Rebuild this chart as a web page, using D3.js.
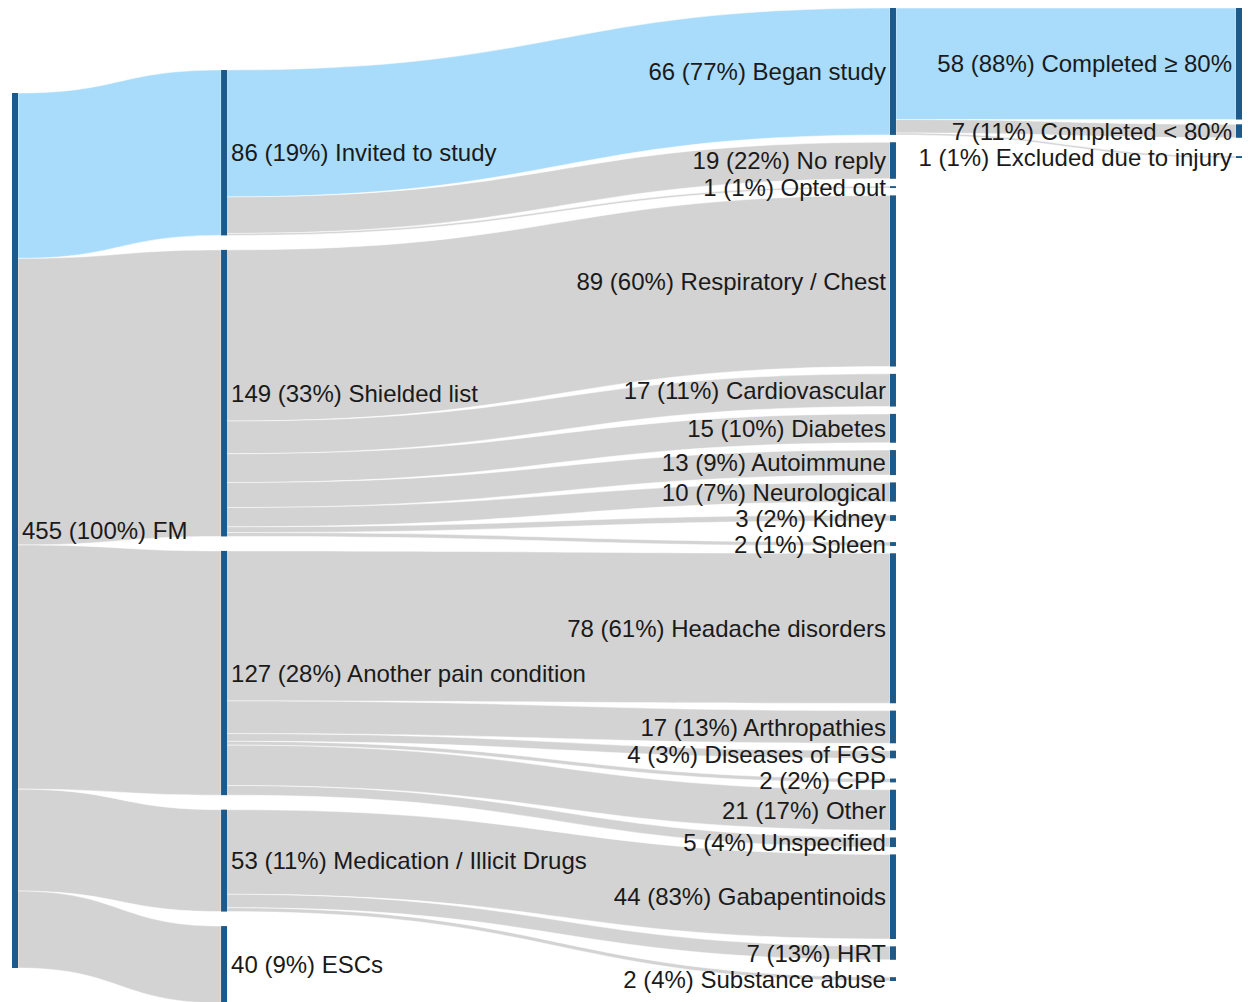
<!DOCTYPE html>
<html><head><meta charset="utf-8">
<script src="https://cdn.jsdelivr.net/npm/d3@7"></script>
<style>
html,body{margin:0;padding:0;background:#fff;}
svg{display:block;}
text{font-family:"Liberation Sans",Arial,sans-serif;fill:#1a1a1a;}
</style></head>
<body>
<svg id="chart" width="1248" height="1002"></svg>
<script>
// ---------------- DATA ----------------
const columns = [
  ["FM"],
  ["Invited to study", "Shielded list", "Another pain condition", "Medication / Illicit Drugs", "ESCs"],
  ["Began study", "No reply", "Opted out",
   "Respiratory / Chest", "Cardiovascular", "Diabetes", "Autoimmune", "Neurological", "Kidney", "Spleen",
   "Headache disorders", "Arthropathies", "Diseases of FGS", "CPP", "Other", "Unspecified",
   "Gabapentinoids", "HRT", "Substance abuse"],
  ["Completed ≥ 80%", "Completed < 80%", "Excluded due to injury"]
];
const linkSources = [
  "FM","FM","FM","FM","FM",
  "Invited to study","Invited to study","Invited to study",
  "Shielded list","Shielded list","Shielded list","Shielded list","Shielded list","Shielded list","Shielded list",
  "Another pain condition","Another pain condition","Another pain condition","Another pain condition","Another pain condition","Another pain condition",
  "Medication / Illicit Drugs","Medication / Illicit Drugs","Medication / Illicit Drugs",
  "Began study","Began study","Began study"
];
const linkTargets = [
  "Invited to study","Shielded list","Another pain condition","Medication / Illicit Drugs","ESCs",
  "Began study","No reply","Opted out",
  "Respiratory / Chest","Cardiovascular","Diabetes","Autoimmune","Neurological","Kidney","Spleen",
  "Headache disorders","Arthropathies","Diseases of FGS","CPP","Other","Unspecified",
  "Gabapentinoids","HRT","Substance abuse",
  "Completed ≥ 80%","Completed < 80%","Excluded due to injury"
];
const linkValues = [
  86,149,127,53,40,
  66,19,1,
  89,17,15,13,10,3,2,
  78,17,4,2,21,5,
  44,7,2,
  58,7,1
];
const nodePercents = {
  "FM":100,
  "Invited to study":19,"Shielded list":33,"Another pain condition":28,"Medication / Illicit Drugs":11,"ESCs":9,
  "Began study":77,"No reply":22,"Opted out":1,
  "Respiratory / Chest":60,"Cardiovascular":11,"Diabetes":10,"Autoimmune":9,"Neurological":7,"Kidney":2,"Spleen":1,
  "Headache disorders":61,"Arthropathies":13,"Diseases of FGS":3,"CPP":2,"Other":17,"Unspecified":4,
  "Gabapentinoids":83,"HRT":13,"Substance abuse":4,
  "Completed ≥ 80%":88,"Completed < 80%":11,"Excluded due to injury":1
};
const highlightPath = ["FM","Invited to study","Began study","Completed ≥ 80%"];

// ---------------- LAYOUT CONFIG ----------------
const W = 1248, H = 1002;
const nodeW = 6;
const FONT = 24;
const labelSpacing = 26;            // min distance between label centres in a column
const colX = d3.scaleLinear().domain([0, 1]).range([12, 1236]);
const columnPos = [0, 0.1708, 0.7173, 1.0];
const columnExtent = [null, [70, 1003], [8, 981], [8, 158]];
const ky = d3.scaleLinear().domain([0, 455]).range([0, 875]);
const COL_NODE = "#1c5a8b", COL_BLUE = "#a9dcfb", COL_GRAY = "#d3d3d3";

// build graph
const nodes = new Map();
columns.forEach((col, d) => col.forEach((name, i) => nodes.set(name, {name, depth: d, index: i, out: [], inc: [], value: 0})));
const links = linkSources.map((s, i) => ({source: nodes.get(linkSources[i]), target: nodes.get(linkTargets[i]), value: linkValues[i]}));
links.forEach(l => { l.source.out.push(l); l.target.inc.push(l); });
nodes.forEach(n => {
  n.value = Math.max(d3.sum(n.out, l => l.value), d3.sum(n.inc, l => l.value));
  n.h = ky(n.value);
  n.x0 = colX(columnPos[n.depth]); n.x1 = n.x0 + nodeW;
});
// stack columns 2..4: common node gap g solved so the column fills its extent,
// while keeping label centres at least labelSpacing apart
for (let d = 1; d < columns.length; d++) {
  const col = columns[d].map(n => nodes.get(n));
  const [a, b] = columnExtent[d];
  const span = g => {
    let s = col[0].h / 2 + col[col.length - 1].h / 2;
    for (let i = 1; i < col.length; i++) s += Math.max((col[i-1].h + col[i].h) / 2 + g, labelSpacing);
    return s;
  };
  let lo = -50, hi = 200;
  for (let it = 0; it < 80; it++) { const m = (lo + hi) / 2; if (span(m) > b - a) hi = m; else lo = m; }
  const g = (lo + hi) / 2;
  let c = a + col[0].h / 2;
  col.forEach((n, i) => {
    if (i > 0) c += Math.max((col[i-1].h + n.h) / 2 + g, labelSpacing);
    n.y0 = c - n.h / 2; n.y1 = c + n.h / 2;
  });
}
// column 1: centred on weighted centre of its targets
{
  const fm = nodes.get("FM");
  const c = d3.sum(fm.out, l => l.value * (l.target.y0 + l.target.y1) / 2) / d3.sum(fm.out, l => l.value);
  fm.y0 = c - fm.h / 2; fm.y1 = c + fm.h / 2;
}
// link band positions
nodes.forEach(n => {
  n.out.sort((p, q) => p.target.y0 - q.target.y0);
  n.inc.sort((p, q) => p.source.y0 - q.source.y0);
  let y = n.y0;
  n.out.forEach(l => { l.sy0 = y; y += ky(l.value); l.sy1 = y; });
  y = n.y0;
  n.inc.forEach(l => { l.ty0 = y; y += ky(l.value); l.ty1 = y; });
});

// ---------------- DRAW ----------------
const svg = d3.select("#chart");
function linkPath(l) {
  const x0 = l.source.x1, x1 = l.target.x0, xm = (x0 + x1) / 2;
  const p = d3.path();
  p.moveTo(x0, l.sy0);
  p.bezierCurveTo(xm, l.sy0, xm, l.ty0, x1, l.ty0);
  p.lineTo(x1, l.ty1);
  p.bezierCurveTo(xm, l.ty1, xm, l.sy1, x0, l.sy1);
  p.closePath();
  return p.toString();
}
const isHi = l => highlightPath.indexOf(l.source.name) >= 0 &&
  highlightPath.indexOf(l.target.name) === highlightPath.indexOf(l.source.name) + 1;

svg.append("g").selectAll("path").data(links).join("path")
  .attr("d", linkPath)
  .attr("fill", l => isHi(l) ? COL_BLUE : COL_GRAY)
  .attr("stroke", "#fff").attr("stroke-width", 0.7).attr("stroke-opacity", 0.7);

const nodeArr = Array.from(nodes.values());
svg.append("g").selectAll("rect").data(nodeArr).join("rect")
  .attr("x", n => n.x0).attr("y", n => n.y0)
  .attr("width", nodeW).attr("height", n => Math.max(1.5, n.h))
  .attr("fill", COL_NODE);

svg.append("g").selectAll("text").data(nodeArr).join("text")
  .attr("x", n => n.depth < 2 ? n.x1 + 4 : n.x0 - 4)
  .attr("y", n => (n.y0 + n.y1) / 2)
  .attr("dy", "0.36em")
  .attr("text-anchor", n => n.depth < 2 ? "start" : "end")
  .attr("font-size", FONT)
  .text(n => `${n.value} (${nodePercents[n.name]}%) ${n.name}`);
</script>
</body></html>
